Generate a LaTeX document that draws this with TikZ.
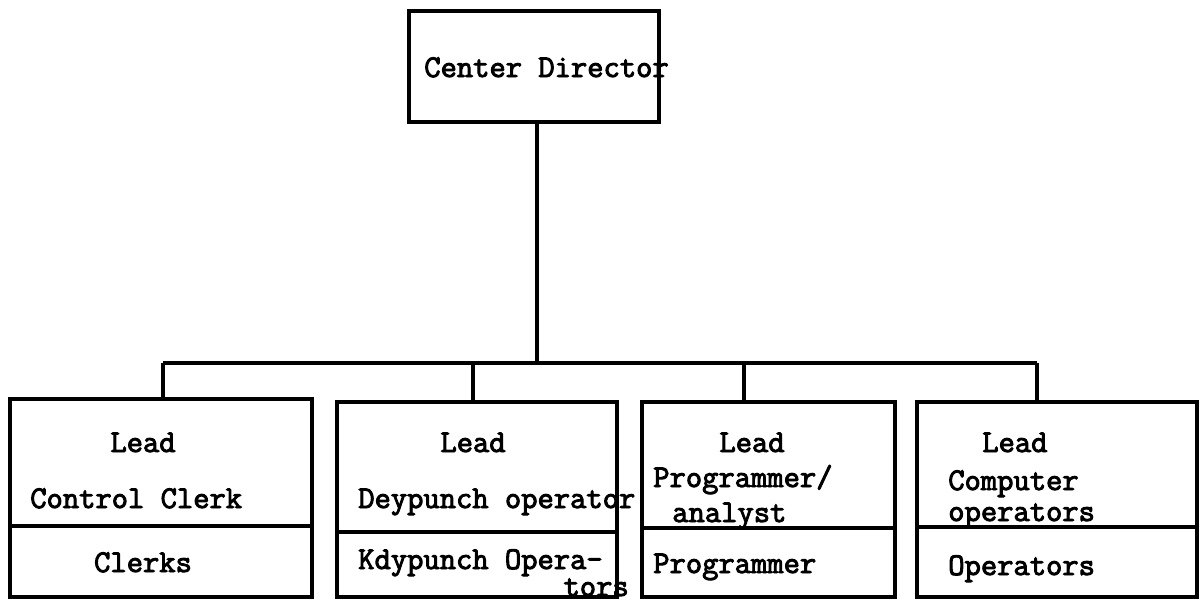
\documentclass[tikz,border=0pt]{standalone}
\usepackage{fontspec}
\newfontfamily\typewriter{Latin Modern Mono}[FakeBold=3]
\tikzset{
	unit/.style={draw, line width=2.4pt, inner sep=0pt, outer sep=0pt},
	entry/.style={font=\typewriter\fontsize{22.5}{26}\selectfont, inner sep=0pt},
	link/.style={line width=2.4pt},
	divider/.style={line width=2.2pt},
}
\begin{document}
\begin{tikzpicture}[x=0.025cm, y=-0.025cm]
			\useasboundingbox (0,0) rectangle (1200,601);
			% boxes
			\node (dir) [unit, minimum width=6.25cm, minimum height=2.775cm] at (534,66.5) {};
			\node (cc) [unit, minimum width=7.55cm, minimum height=4.95cm] at (161,498) {};
			\node (kp) [unit, minimum width=7cm, minimum height=4.875cm] at (477,499.5) {};
			\node (pa) [unit, minimum width=6.325cm, minimum height=4.875cm] at (768.5,499.5) {};
			\node (co) [unit, minimum width=7cm, minimum height=4.875cm] at (1057,499.5) {};
			% lead / staff split
			\draw [divider] (cc.west |- 0,526) -- (cc.east |- 0,526);
			\draw [divider] (kp.west |- 0,532) -- (kp.east |- 0,532);
			\draw [divider] (pa.west |- 0,528) -- (pa.east |- 0,528);
			\draw [divider] (co.west |- 0,527) -- (co.east |- 0,527);
			% connectors
			\coordinate (bar) at (537,363);
			\coordinate (d1) at (163,363);
			\coordinate (d2) at (473,363);
			\coordinate (d3) at (744,363);
			\coordinate (d4) at (1037,363);
			\draw [link] (dir.south -| bar) -- (bar);
			\draw [link] (d1) -- (d4);
			\draw [link] (d1) -- (d1 |- cc.north);
			\draw [link] (d2) -- (d2 |- kp.north);
			\draw [link] (d3) -- (d3 |- pa.north);
			\draw [link] (d4) -- (d4 |- co.north);
			% labels
			\node (dirtxt) [entry, anchor=base west] at (424,77) {Center Director};
			\node (cclead) [entry, anchor=base] at (143,452) {Lead};
			\node (cctitle) [entry, anchor=base west] at (30,508) {Control Clerk};
			\node (ccstaff) [entry, anchor=base] at (143,572) {Clerks};
			\node (kplead) [entry, anchor=base] at (473,452) {Lead};
			\node (kptitle) [entry, anchor=base west] at (358,508) {Deypunch operator};
			\node (kpstaff) [entry, anchor=base west] at (358,569) {Kdypunch Opera-};
			\node (kpstaffb) [entry, anchor=base east] at (629,596) {tors};
			\node (palead) [entry, anchor=base] at (752,452) {Lead};
			\node (patitle) [entry, anchor=base west] at (653,487) {Programmer/};
			\node (patitleb) [entry, anchor=base west] at (672,522) {analyst};
			\node (pastaff) [entry, anchor=base west] at (653,573) {Programmer};
			\node (colead) [entry, anchor=base west] at (982,452) {Lead};
			\node (cotitle) [entry, anchor=base west] at (948,490) {Computer};
			\node (cotitleb) [entry, anchor=base west] at (948,521) {operators};
			\node (costaff) [entry, anchor=base west] at (948,575) {Operators};
\end{tikzpicture}
\end{document}
